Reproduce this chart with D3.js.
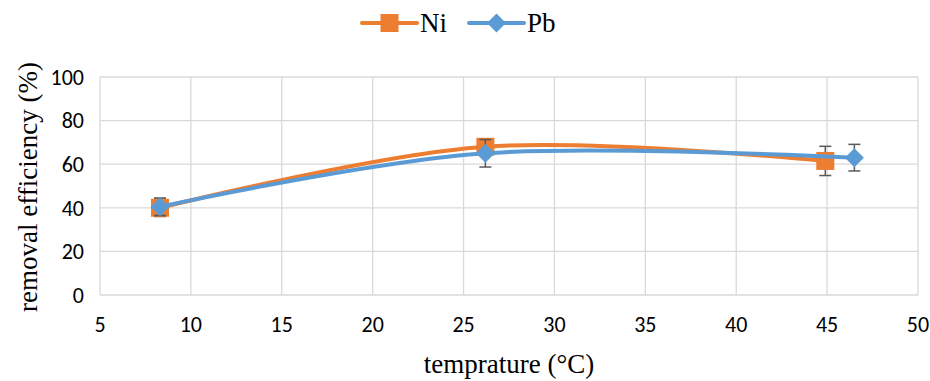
<!DOCTYPE html>
<html>
<head>
<meta charset="utf-8">
<script src="https://cdn.jsdelivr.net/npm/d3@7"></script>
<style>
  body { margin: 0; background: #fff; }
</style>
</head>
<body>
<script>
// Data
var seriesNames = ["Ni", "Pb"];
var seriesColors = ["#ED7D31", "#5B9BD5"];
var niTemp = [8.3, 26.2, 44.9];
var niRemoval = [40, 68, 61.5];
var niError = [4, 3.5, 6.7];
var pbTemp = [8.3, 26.2, 46.5];
var pbRemoval = [40.5, 65, 63];
var pbError = [4, 6.3, 6.1];
var xTicks = [5, 10, 15, 20, 25, 30, 35, 40, 45, 50];
var yTicks = [0, 20, 40, 60, 80, 100];

var W = 930, H = 381;
var margin = {left: 100, right: 12, top: 77, bottom: 86};
var serifFont = "'Liberation Serif', 'Times New Roman', serif";
var tickFont = "Carlito, Lato, sans-serif";

var svg = d3.select("body").append("svg")
    .attr("width", W)
    .attr("height", H);

var x = d3.scaleLinear().domain([5, 50]).range([margin.left, W - margin.right]);
var y = d3.scaleLinear().domain([0, 100]).range([H - margin.bottom, margin.top]);

// gridlines
svg.append("g").selectAll("line")
    .data(yTicks).enter().append("line")
    .attr("x1", x(5)).attr("x2", x(50))
    .attr("y1", d => y(d)).attr("y2", d => y(d))
    .attr("stroke", "#d9d9d9").attr("stroke-width", 1.3);
svg.append("g").selectAll("line")
    .data(xTicks).enter().append("line")
    .attr("x1", d => x(d)).attr("x2", d => x(d))
    .attr("y1", y(0)).attr("y2", y(100))
    .attr("stroke", "#d9d9d9").attr("stroke-width", 1.3);

// tick labels
svg.append("g").selectAll("text")
    .data(yTicks).enter().append("text")
    .attr("x", x(5) - 16).attr("y", d => y(d))
    .attr("dy", "0.35em")
    .attr("text-anchor", "end")
    .style("font-family", tickFont).style("font-size", "22px")
    .attr("fill", "#000")
    .text(d => d);
svg.append("g").selectAll("text")
    .data(xTicks).enter().append("text")
    .attr("x", d => x(d)).attr("y", y(0) + 29)
    .attr("dy", "0.35em")
    .attr("text-anchor", "middle")
    .style("font-family", tickFont).style("font-size", "22px")
    .attr("fill", "#000")
    .text(d => d);

// axis titles
svg.append("text")
    .attr("x", (x(5) + x(50)) / 2).attr("y", 373)
    .attr("text-anchor", "middle")
    .style("font-family", serifFont).style("font-size", "27px")
    .attr("fill", "#000")
    .text("temprature (°C)");
svg.append("text")
    .attr("transform", "translate(37,187) rotate(-90)")
    .attr("text-anchor", "middle")
    .style("font-family", serifFont).style("font-size", "27px")
    .attr("fill", "#000")
    .text("removal efficiency (%)");

var series = [
    {name: seriesNames[0], color: seriesColors[0], temp: niTemp, val: niRemoval, err: niError, marker: "square"},
    {name: seriesNames[1], color: seriesColors[1], temp: pbTemp, val: pbRemoval, err: pbError, marker: "diamond"}
];

var line = d3.line()
    .x(d => x(d[0]))
    .y(d => y(d[1]))
    .curve(d3.curveCardinal.tension(0));

function drawMarker(g, s, cx, cy) {
    if (s.marker == "square") {
        g.append("rect")
            .attr("x", cx - 9).attr("y", cy - 9)
            .attr("width", 18).attr("height", 18)
            .attr("fill", s.color);
    } else {
        var r = 9.5;
        g.append("path")
            .attr("d", `M${cx},${cy - r}L${cx + r},${cy}L${cx},${cy + r}L${cx - r},${cy}Z`)
            .attr("fill", s.color);
    }
}

series.forEach(function(s) {
    var g = svg.append("g");
    var pts = s.temp.map((t, i) => [t, s.val[i], s.err[i]]);

    // error bars
    pts.forEach(function(p) {
        var cx = x(p[0]);
        g.append("line")
            .attr("x1", cx).attr("x2", cx)
            .attr("y1", y(p[1] - p[2])).attr("y2", y(p[1] + p[2]))
            .attr("stroke", "#595959").attr("stroke-width", 1.5);
        [p[1] - p[2], p[1] + p[2]].forEach(function(v) {
            g.append("line")
                .attr("x1", cx - 6).attr("x2", cx + 6)
                .attr("y1", y(v)).attr("y2", y(v))
                .attr("stroke", "#595959").attr("stroke-width", 1.5);
        });
    });

    g.append("path")
        .datum(pts)
        .attr("d", line)
        .attr("fill", "none")
        .attr("stroke", s.color)
        .attr("stroke-width", 4)
        .attr("stroke-linecap", "round");

    pts.forEach(function(p) {
        drawMarker(g, s, x(p[0]), y(p[1]));
    });
});

// legend
var legendX = [362, 469];
series.forEach(function(s, i) {
    var lg = svg.append("g");
    var x0 = legendX[i], cy = 23;
    lg.append("line")
        .attr("x1", x0).attr("x2", x0 + 55)
        .attr("y1", cy).attr("y2", cy)
        .attr("stroke", s.color).attr("stroke-width", 4)
        .attr("stroke-linecap", "round");
    drawMarker(lg, s, x0 + 27.5, cy);
    lg.append("text")
        .attr("x", x0 + 58).attr("y", cy)
        .attr("dy", "0.35em")
        .style("font-family", serifFont).style("font-size", "27px")
        .attr("fill", "#000")
        .text(s.name);
});
</script>
</body>
</html>
